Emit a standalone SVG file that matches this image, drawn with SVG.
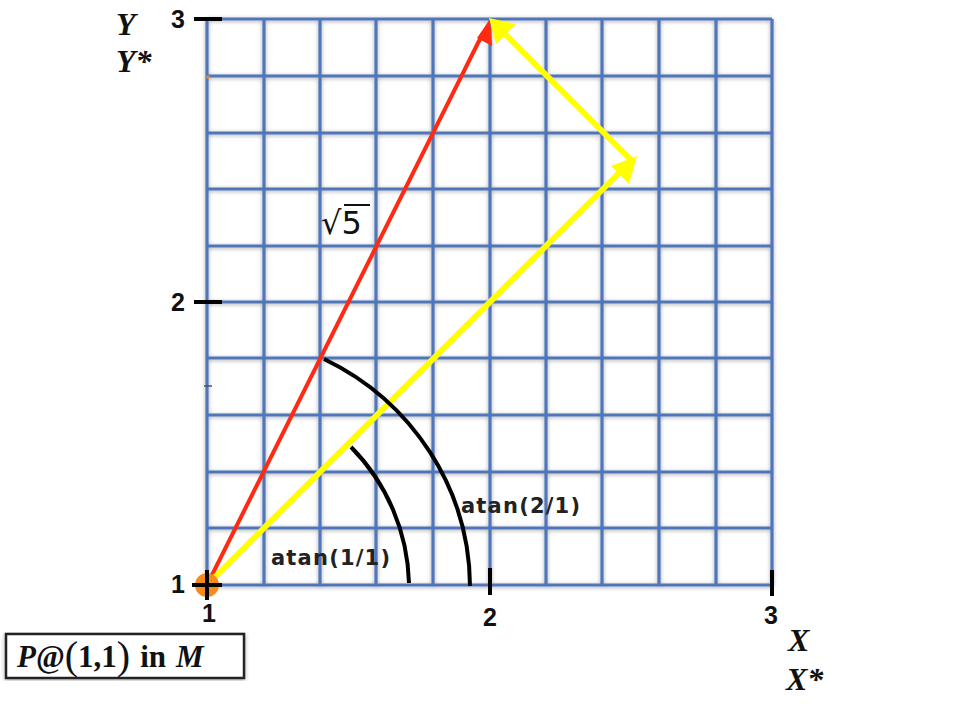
<svg xmlns="http://www.w3.org/2000/svg" width="965" height="706" viewBox="0 0 965 706">
<defs>
<style>
.g{stroke:#4f75ba;stroke-width:3.2;fill:none}
.tick{stroke:#000;stroke-width:4;fill:none}
.num{font-family:"Liberation Sans",Arial,sans-serif;font-weight:bold;font-size:25px;fill:#111}
.ax{font-family:"Liberation Serif","Times New Roman",serif;font-weight:bold;font-style:italic;font-size:32px;fill:#111}
.lab{font-family:"DejaVu Sans",sans-serif;font-weight:bold;font-size:21px;letter-spacing:1.2px;fill:#222}
.arc{stroke:#000;stroke-width:4;fill:none}
</style>
<filter id="sh" x="-5%" y="-5%" width="110%" height="110%">
<feGaussianBlur in="SourceAlpha" stdDeviation="2"/>
<feOffset dx="0" dy="1"/>
<feComponentTransfer><feFuncA type="linear" slope="0.35"/></feComponentTransfer>
<feMerge><feMergeNode/><feMergeNode in="SourceGraphic"/></feMerge>
</filter>
</defs>
<rect width="965" height="706" fill="#fff"/>
<g id="grid" filter="url(#sh)">
<path class="g" d="M207 19V585M264 19V585M320 19V585M376 19V585M433 19V585M490 19V585M546 19V585M602 19V585M659 19V585M716 19V585M772 19V585"/>
<path class="g" d="M207 19H772M207 76H772M207 133H772M207 189H772M207 246H772M207 302H772M207 358H772M207 415H772M207 472H772M207 528H772M207 585H772"/>
</g>
<circle cx="208" cy="77" r="1.8" fill="#f08a24"/>
<path d="M204 386h8" stroke="#555" stroke-width="1.5"/>
<g id="axes">
<path class="tick" d="M194 19H222M194 302H222M490 568V595M772 570V596"/>
<text class="num" x="178" y="28" text-anchor="middle">3</text>
<text class="num" x="178" y="311" text-anchor="middle">2</text>
<text class="num" x="178" y="593" text-anchor="middle">1</text>
<text class="num" x="209" y="622" text-anchor="middle">1</text>
<text class="num" x="490" y="626" text-anchor="middle">2</text>
<text class="num" x="771" y="624" text-anchor="middle">3</text>
<text class="ax" x="116" y="35">Y</text>
<text class="ax" x="116" y="72">Y*</text>
<text class="ax" x="788" y="651">X</text>
<text class="ax" x="786" y="690">X*</text>
</g>
<g id="connectors">
<path d="M207 585L483 33" stroke="#ff2a12" stroke-width="4" fill="none"/>
<polygon points="490,19 492,46 477,38" fill="#ff2a12"/>
<path d="M207 585L622 170" stroke="#ffff00" stroke-width="6" fill="none"/>
<polygon points="637,156 629,184 611,166" fill="#ffff00"/>
<path d="M632 161L500 29" stroke="#ffff00" stroke-width="6" fill="none"/>
<polygon points="489,18 516,24 496,44" fill="#ffff00"/>
<path class="arc" d="M324 359A263 255 0 0 1 470 586"/>
<path class="arc" d="M351 447A201 201 0 0 1 409 583"/>
</g>
<g id="origin">
<circle cx="207" cy="585" r="12" fill="#f58a1f"/>
<path d="M192 585H222M207 570V600" stroke="#000" stroke-width="4"/>
</g>
<g id="labels">
<text class="lab" x="271" y="565">atan(1/1)</text>
<text class="lab" x="461" y="513">atan(2/1)</text>
<text x="321" y="234" font-family="'DejaVu Sans',sans-serif" font-size="32" fill="#111">√5</text>
<path d="M344 205H370" stroke="#111" stroke-width="2"/>
</g>
<g id="caption">
<rect x="6" y="634" width="238" height="44" fill="#fff" stroke="#222" stroke-width="2.5" filter="url(#sh)"/>
<text x="17" y="667" font-family="'Liberation Serif','Times New Roman',serif" font-size="31" font-weight="bold" fill="#111"><tspan font-style="italic">P</tspan>@<tspan font-size="40" font-weight="normal" dy="2">(</tspan><tspan dy="-2">1,1</tspan><tspan font-size="40" font-weight="normal" dy="2">)</tspan><tspan dy="-2" dx="10">in</tspan><tspan dx="10" font-style="italic">M</tspan></text>
</g>
</svg>
